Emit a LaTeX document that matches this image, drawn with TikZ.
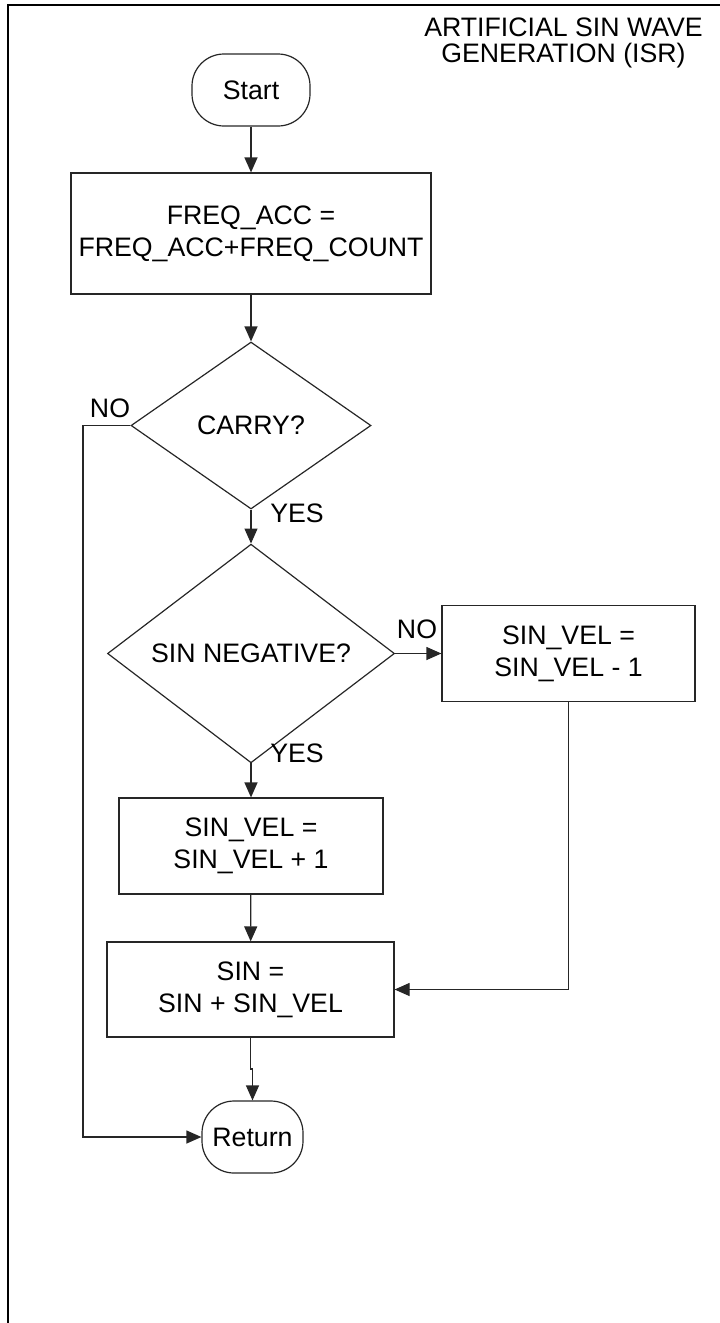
\documentclass[tikz,border=0pt]{standalone}
\usepackage{fontspec}
\setmainfont{Liberation Sans}
\usetikzlibrary{shapes.geometric,arrows.meta}
\begin{document}
\begin{tikzpicture}[x=1pt,y=-1pt,
  font=\fontsize{26.7}{32}\selectfont,
  line/.style={line width=1.2pt, draw=black!85},
  arr/.style={line, -{Triangle[length=15pt,width=13pt]}},
  procbox/.style={draw=black!85, line width=1.2pt, align=center, inner sep=0pt},
  term/.style={procbox, rounded corners=32pt, minimum height=72pt},
  decision/.style={diamond, draw=black!85, line width=1.2pt, inner sep=0pt, align=center},
  lbl/.style={inner sep=0pt}]
\useasboundingbox (0,0) rectangle (720,1323);
\draw[line width=2.6pt, black] (8,1323) -- (8,5) -- (720,5);
\node[lbl, align=center, font=\fontsize{26.7}{26}\selectfont] (title) at (563.5,43) {ARTIFICIAL SIN WAVE\\GENERATION (ISR)};

\node[term, minimum width=118pt] (start) at (251,90) {Start};
\node[procbox, minimum width=360pt, minimum height=121pt] (box1) at (251,233.5) {FREQ\_ACC =\\FREQ\_ACC+FREQ\_COUNT};
\node[decision, minimum width=240pt, minimum height=167pt] (carry) at (251,425.5) {CARRY?};
\node[decision, minimum width=287pt, minimum height=191pt] (neg) at (251,653.5) {SIN NEGATIVE?};
\node[procbox, minimum width=253pt, minimum height=96pt] (velm) at (568.5,653.5) {SIN\_VEL =\\SIN\_VEL - 1};
\node[procbox, minimum width=264pt, minimum height=96pt] (velp) at (251,846) {SIN\_VEL =\\SIN\_VEL + 1};
\node[procbox, minimum width=287pt, minimum height=95pt] (sin) at (250.5,989.5) {SIN =\\SIN + SIN\_VEL};
\node[term, minimum width=101pt] (ret) at (252.5,1137) {Return};

\coordinate (cno) at (83,425.5);
\coordinate (jog) at (250.5,1069);

\draw[arr] (start) -- (box1);
\draw[arr] (box1) -- (carry);
\draw[arr] (carry) -- (neg);
\draw[arr] (carry.west) -- (cno) |- (ret.west);
\draw[arr] (neg.east) -- (velm.west);
\draw[arr] (neg) -- (velp);
\draw[arr] (velp) -- (sin);
\draw[arr] (velm.south) |- (sin.east);
\draw[arr] (sin.south) -- (jog) -| (ret.north);

\node[lbl] (lno1) at (110,408) {NO};
\node[lbl] (lyes1) at (297,513) {YES};
\node[lbl] (lno2) at (417,629) {NO};
\node[lbl] (lyes2) at (297,753) {YES};
\end{tikzpicture}
\end{document}
